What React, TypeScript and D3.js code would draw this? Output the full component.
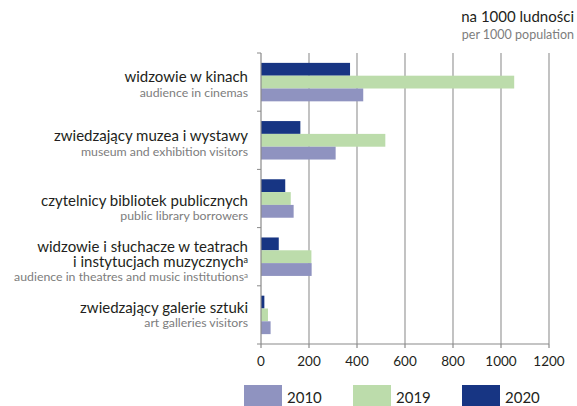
import { scaleBand, scaleLinear } from "d3";

const categories = [
  ["widzowie w kinach"],
  ["zwiedzający muzea i wystawy"],
  ["czytelnicy bibliotek publicznych"],
  ["widzowie i słuchacze w teatrach", "i instytucjach muzycznych"],
  ["zwiedzający galerie sztuki"],
];
const subtitles = [
  "audience in cinemas",
  "museum and exhibition visitors",
  "public library borrowers",
  "audience in theatres and music institutions",
  "art galleries visitors",
];
const footnoted = [false, false, false, true, false];

const years = ["2020", "2019", "2010"];
const legendYears = ["2010", "2019", "2020"];
const values2010 = [426, 311, 136, 211, 40];
const values2019 = [1055, 518, 124, 210, 29];
const values2020 = [371, 164, 101, 74, 14];
const xTicks = [0, 200, 400, 600, 800, 1000, 1200];

const colors: Record<string, string> = {
  "2010": "#8f93c0",
  "2019": "#bcdcab",
  "2020": "#173583",
};
const seriesValues: Record<string, number[]> = {
  "2010": values2010,
  "2019": values2019,
  "2020": values2020,
};

// small per-label vertical shifts, as in the original layout
const labelNudge = [-2, -1, 5, 0, -4];

const W = 577;
const H = 406;
const font = "Lato, 'Open Sans', sans-serif";

export default function App() {
  const x = scaleLinear().domain([0, 1200]).range([261, 549]);
  const y = scaleBand<number>()
    .domain(categories.map((_, i) => i))
    .range([53, 344])
    .padding(0);
  const yInner = scaleBand<string>()
    .domain(years)
    .range([0, y.bandwidth()])
    .paddingInner(0)
    .paddingOuter(0.77);

  const step = y.step();
  const boundaries = categories.map((_, i) => y(i)!).concat([y(categories.length - 1)! + step]);

  return (
    <svg
      width={W}
      height={H}
      style={{ position: "absolute", left: 0, top: 0, fontFamily: font }}
    >
      <rect width={W} height={H} fill="#fff" />

      {/* unit */}
      <text x={574} y={22} textAnchor="end" fontSize={15} fill="#231f20">
        na 1000 ludności
      </text>
      <text x={574} y={38.5} textAnchor="end" fontSize={12.5} fill="#7d7d7d">
        per 1000 population
      </text>

      {/* grid */}
      {xTicks.slice(1).map((t) => (
        <line key={t} x1={x(t)} x2={x(t)} y1={53} y2={344} stroke="#9a9a9a" strokeWidth={1.2} />
      ))}

      {/* bars */}
      {years.map((yr) =>
        seriesValues[yr].map((v, i) => (
          <rect
            key={yr + i}
            x={x(0)}
            y={y(i)! + yInner(yr)!}
            width={x(v) - x(0)}
            height={yInner.bandwidth()}
            fill={colors[yr]}
          />
        )),
      )}

      {/* axes */}
      <line x1={x(0)} x2={x(0)} y1={53} y2={344} stroke="#8a8a8a" strokeWidth={1.2} />
      <line x1={x(0)} x2={x(1200)} y1={344} y2={344} stroke="#8a8a8a" strokeWidth={1.2} />
      {boundaries.map((b, i) => (
        <line key={i} x1={257} x2={x(0)} y1={b} y2={b} stroke="#8a8a8a" strokeWidth={1} />
      ))}
      {xTicks.map((t) => (
        <g key={t}>
          <line x1={x(t)} x2={x(t)} y1={344} y2={348} stroke="#8a8a8a" strokeWidth={1.2} />
          <text x={x(t)} y={366} textAnchor="middle" fontSize={13.5} fill="#231f20">
            {t}
          </text>
        </g>
      ))}

      {/* category labels */}
      {categories.map((lines, i) => {
        const c = y(i)! + step / 2 + labelNudge[i];
        const top = lines.length > 1 ? c - 5 : c + 2;
        return (
          <text key={i} x={248} y={top} textAnchor="end" fontSize={15} fill="#231f20">
            {lines.map((ln, j) => (
              <tspan key={j} x={248} dy={j === 0 ? 0 : 15}>
                {ln}
                {footnoted[i] && j === lines.length - 1 ? (
                  <tspan fontSize={9} dy={-4}>a</tspan>
                ) : null}
              </tspan>
            ))}
            <tspan
              x={248}
              y={top + (lines.length - 1) * 15 + 14.5}
              fontSize={12.3}
              fill="#7d7d7d"
            >
              {subtitles[i]}
              {footnoted[i] ? (
                <tspan fontSize={8} dy={-3}>a</tspan>
              ) : null}
            </tspan>
          </text>
        );
      })}

      {/* legend */}
      {legendYears.map((yr, i) => {
        const lx = 244 + i * 109;
        return (
          <g key={yr}>
            <rect x={lx} y={385} width={38} height={21} fill={colors[yr]} />
            <text x={lx + 43} y={403} fontSize={15} fill="#231f20">
              {yr}
            </text>
          </g>
        );
      })}
    </svg>
  );
}
